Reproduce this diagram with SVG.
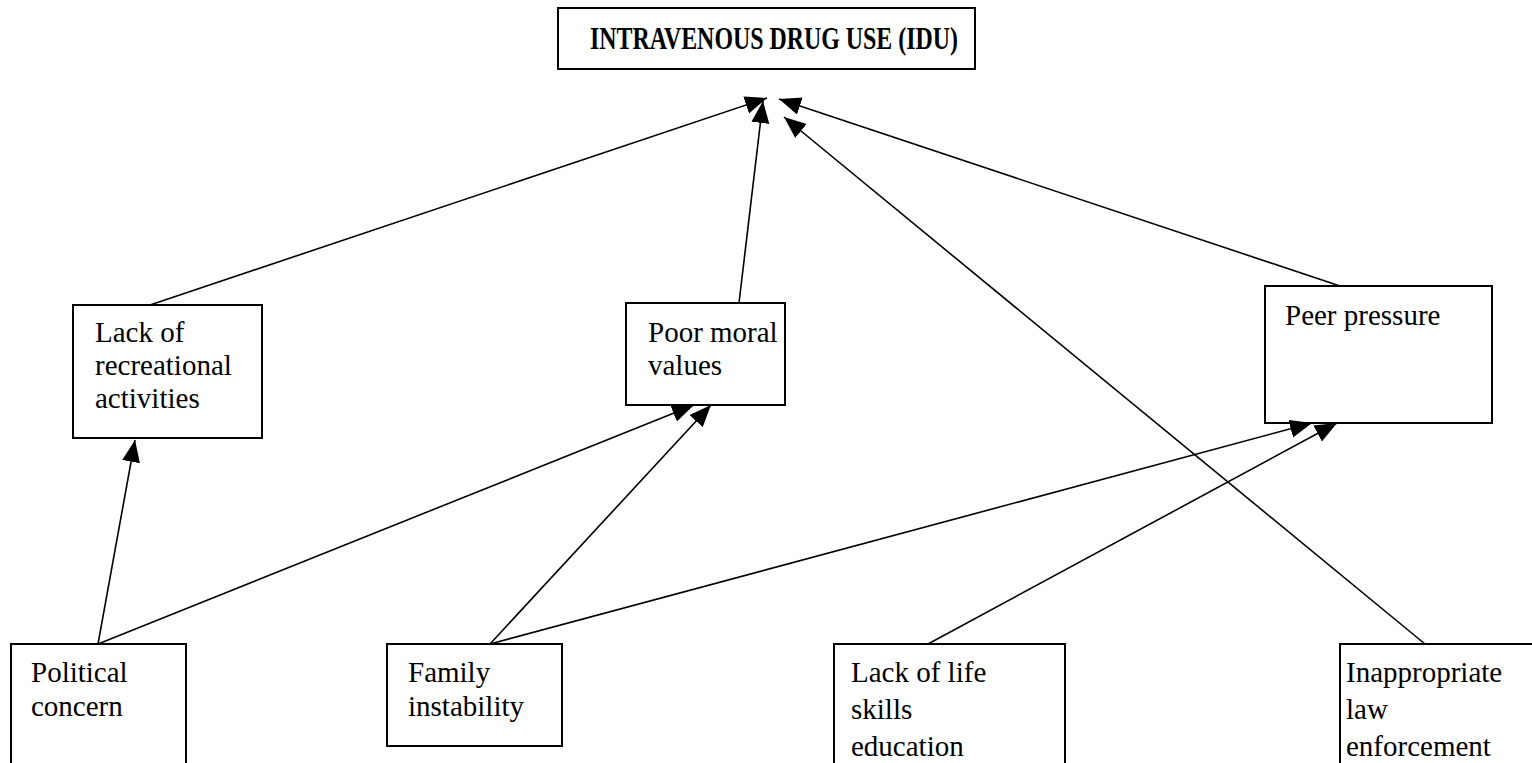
<svg xmlns="http://www.w3.org/2000/svg" width="1532" height="763" viewBox="0 0 1532 763">
<style>
.box{fill:#fff;stroke:#000;stroke-width:2}
.t{font-family:"Liberation Serif","Times New Roman",serif;font-size:29px;fill:#000}
.title{font-family:"Liberation Serif","Times New Roman",serif;font-size:31px;font-weight:bold;fill:#000}
.c{stroke:#000;stroke-width:1.6;fill:none;marker-end:url(#ah)}
</style>
<defs>
<marker id="ah" markerUnits="userSpaceOnUse" markerWidth="24" markerHeight="20" refX="22" refY="9" orient="auto">
<path d="M0,0 L22,9 L0,18 z" fill="#000"/>
</marker>
</defs>
<rect width="1532" height="763" fill="#fff"/>
<g id="title">
<rect class="box" x="558" y="8" width="417" height="61"/>
<text class="title" x="590" y="49" textLength="368" lengthAdjust="spacingAndGlyphs">INTRAVENOUS DRUG USE (IDU)</text>
</g>
<g id="lack-recreational">
<rect class="box" x="73" y="305" width="189" height="133"/>
<text class="t" x="95" y="342">Lack of</text>
<text class="t" x="95" y="375">recreational</text>
<text class="t" x="95" y="408">activities</text>
</g>
<g id="poor-moral">
<rect class="box" x="626" y="303" width="159" height="102"/>
<text class="t" x="648" y="342">Poor moral</text>
<text class="t" x="648" y="375">values</text>
</g>
<g id="peer-pressure">
<rect class="box" x="1265" y="286" width="227" height="137"/>
<text class="t" x="1285" y="325">Peer pressure</text>
</g>
<g id="political">
<rect class="box" x="11" y="644" width="175" height="130"/>
<text class="t" x="31" y="682">Political</text>
<text class="t" x="31" y="716">concern</text>
</g>
<g id="family">
<rect class="box" x="387" y="644" width="175" height="102"/>
<text class="t" x="408" y="682">Family</text>
<text class="t" x="408" y="716">instability</text>
</g>
<g id="life-skills">
<rect class="box" x="834" y="644" width="231" height="130"/>
<text class="t" x="851" y="682">Lack of life</text>
<text class="t" x="851" y="719">skills</text>
<text class="t" x="851" y="756">education</text>
</g>
<g id="law-enforcement">
<rect class="box" x="1340" y="644" width="200" height="130"/>
<text class="t" x="1346" y="682">Inappropriate</text>
<text class="t" x="1346" y="719">law</text>
<text class="t" x="1346" y="756">enforcement</text>
</g>
<g id="connectors">
<line class="c" x1="150" y1="305" x2="767" y2="98"/>
<line class="c" x1="739" y1="303" x2="763" y2="101"/>
<line class="c" x1="1340" y1="286" x2="779" y2="99"/>
<line class="c" x1="1425" y1="644" x2="784" y2="117"/>
<line class="c" x1="98" y1="644" x2="135" y2="440"/>
<line class="c" x1="98" y1="644" x2="694" y2="405"/>
<line class="c" x1="490" y1="644" x2="711" y2="405"/>
<line class="c" x1="490" y1="644" x2="1312" y2="423"/>
<line class="c" x1="928" y1="644" x2="1337" y2="423"/>
</g>
</svg>
